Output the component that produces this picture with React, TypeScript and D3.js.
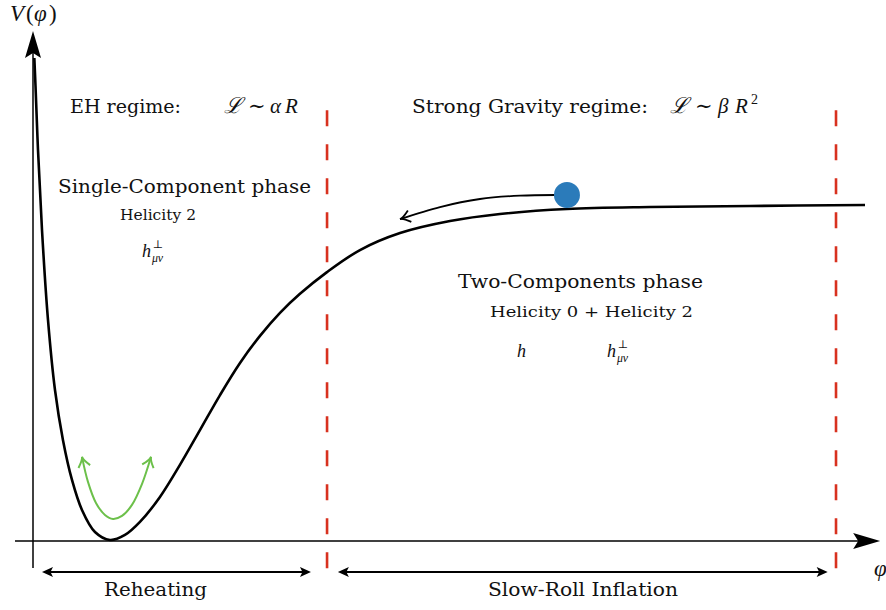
import React from "react";
import * as d3 from "d3";

// Potential curve V(φ) (φ in arbitrary units, V normalised to plateau = 1)
const phiValues = [0.016, 0.03, 0.06, 0.108, 0.18, 0.264, 0.36, 0.468, 0.588, 0.744, 0.924, 1.104, 1.284, 1.524, 1.764, 2.004, 2.245, 2.485, 2.725, 2.965, 3.205, 3.529, 3.925, 4.406, 5.006, 5.606, 6.41, 7.407, 8.607, 9.988];
const vValues = [1.443, 1.36, 1.168, 0.928, 0.659, 0.449, 0.299, 0.18, 0.09, 0.024, 0, 0.015, 0.054, 0.129, 0.225, 0.329, 0.434, 0.53, 0.611, 0.68, 0.737, 0.802, 0.868, 0.919, 0.955, 0.976, 0.991, 0.997, 1.0, 1.003];

// Green oscillation arrow
const greenPhi = [0.588, 0.66, 0.756, 0.864, 0.96, 1.068, 1.188, 1.309, 1.417];
const greenV = [0.249, 0.174, 0.111, 0.075, 0.063, 0.072, 0.105, 0.168, 0.249];

// Rolling arrow (from ball to the left)
const rollPhi = [6.267, 5.846, 5.366, 4.886, 4.406];
const rollV = [1.033, 1.031, 1.021, 0.997, 0.961];

// Ball
const ballPhi = 6.41;
const ballV = 1.033;

// Region boundaries
const boundaries = [3.53, 9.64];
const reheatingRange = [0.108, 3.337];
const slowRollRange = [3.66, 9.54];

const W = 886;
const H = 610;

const x = d3.scaleLinear().domain([0, 10]).range([33, 866]);
const y = d3.scaleLinear().domain([0, 1]).range([540, 206]);

const serif = "'DejaVu Serif', 'Liberation Serif', serif";
const mathFont = "'Liberation Serif', 'DejaVu Serif', serif";

function Hperp({ px, py, size }: { px: number; py: number; size: number }) {
  return (
    <g fontFamily={mathFont} fill="#111">
      <text x={px} y={py} fontSize={size} fontStyle="italic">h</text>
      <text x={px + size * 0.6} y={py - size * 0.5} fontSize={size * 0.62}>⊥</text>
      <text x={px + size * 0.55} y={py + size * 0.3} fontSize={size * 0.66} fontStyle="italic">μν</text>
    </g>
  );
}

function stealth(tipX: number, tipY: number, dx: number, dy: number, len: number, half: number, notch: number) {
  const bx = tipX - dx * len;
  const by = tipY - dy * len;
  const nx = -dy;
  const ny = dx;
  const p1 = [bx + nx * half, by + ny * half];
  const p2 = [bx - nx * half, by - ny * half];
  const pn = [tipX - dx * (len - notch), tipY - dy * (len - notch)];
  return `M${tipX},${tipY}L${p1[0]},${p1[1]}L${pn[0]},${pn[1]}L${p2[0]},${p2[1]}Z`;
}

function chevron(tipX: number, tipY: number, dx: number, dy: number, len: number, half: number) {
  const bx = tipX - dx * len;
  const by = tipY - dy * len;
  const nx = -dy;
  const ny = dx;
  return `M${bx + nx * half},${by + ny * half}Q${tipX - dx * len * 0.3},${tipY - dy * len * 0.3} ${tipX},${tipY}Q${tipX - dx * len * 0.3},${tipY - dy * len * 0.3} ${bx - nx * half},${by - ny * half}`;
}

export default function App() {
  const curvePts: [number, number][] = phiValues.map((p, i) => [p, vValues[i]]);
  const line = d3
    .line<[number, number]>()
    .x((d) => x(d[0]))
    .y((d) => y(d[1]))
    .curve(d3.curveCatmullRom.alpha(0.5));

  const greenPts: [number, number][] = greenPhi.map((p, i) => [p, greenV[i]]);
  const rollPts: [number, number][] = rollPhi.map((p, i) => [p, rollV[i]]);

  const dir = (a: [number, number], b: [number, number]) => {
    const ax = x(a[0]), ay = y(a[1]), bx = x(b[0]), by = y(b[1]);
    const l = Math.hypot(bx - ax, by - ay);
    return [(bx - ax) / l, (by - ay) / l];
  };
  const gL = dir(greenPts[1], greenPts[0]);
  const gR = dir(greenPts[greenPts.length - 2], greenPts[greenPts.length - 1]);
  const rEnd = dir(rollPts[rollPts.length - 2], rollPts[rollPts.length - 1]);

  const axisX0 = x(-0.216);
  const axisXTip = x(10.17);
  const axisY0 = y(-0.084);
  const axisYTip = y(1.524);
  const yAxisX = x(0);
  const xAxisY = y(0) + 1;

  const arrowY = y(-0.096);

  return (
    <svg width={W} height={H} style={{ position: "absolute", left: 0, top: 0, background: "#fff" }}>
      {/* axes */}
      <line x1={yAxisX} y1={axisY0} x2={yAxisX} y2={axisYTip + 20} stroke="#000" strokeWidth={1.5} />
      <path d={stealth(yAxisX, axisYTip, 0, -1, 27, 8, 5)} fill="#000" />
      <line x1={axisX0} y1={xAxisY} x2={axisXTip - 20} y2={xAxisY} stroke="#000" strokeWidth={1.5} />
      <path d={stealth(axisXTip, xAxisY, 1, 0, 27, 8, 5)} fill="#000" />

      {/* region boundaries */}
      {boundaries.map((b, i) => (
        <line
          key={i}
          x1={x(b)}
          x2={x(b)}
          y1={y(1.287)}
          y2={y(-0.09)}
          stroke="#d8311f"
          strokeWidth={2.6}
          strokeDasharray="16 18"
        />
      ))}

      {/* potential */}
      <path d={line(curvePts) || ""} fill="none" stroke="#000" strokeWidth={2.6} />

      {/* green arrow */}
      <path d={line(greenPts) || ""} fill="none" stroke="#6cc04a" strokeWidth={2} />
      <path d={chevron(x(greenPts[0][0]), y(greenPts[0][1]), gL[0], gL[1], 10, 6)} fill="none" stroke="#6cc04a" strokeWidth={2} />
      <path d={chevron(x(greenPts[8][0]), y(greenPts[8][1]), gR[0], gR[1], 10, 6)} fill="none" stroke="#6cc04a" strokeWidth={2} />

      {/* rolling arrow */}
      <path d={line(rollPts) || ""} fill="none" stroke="#000" strokeWidth={1.8} />
      <path d={chevron(x(rollPts[4][0]), y(rollPts[4][1]), rEnd[0], rEnd[1], 10, 6)} fill="none" stroke="#000" strokeWidth={1.8} />

      {/* ball */}
      <circle cx={x(ballPhi)} cy={y(ballV)} r={13} fill="#2b7bba" />

      {/* bottom range arrows */}
      {[reheatingRange, slowRollRange].map((r, i) => {
        const a = x(r[0]);
        const b = x(r[1]);
        return (
          <g key={i}>
            <line x1={a + 6} x2={b - 6} y1={arrowY} y2={arrowY} stroke="#000" strokeWidth={2} />
            <path d={stealth(a, arrowY, -1, 0, 11, 5, 2.5)} fill="#000" />
            <path d={stealth(b, arrowY, 1, 0, 11, 5, 2.5)} fill="#000" />
          </g>
        );
      })}

      {/* texts */}
      <g fontFamily={mathFont} fill="#111">
        <text x={10} y={21} fontSize={23} fontStyle="italic">V</text>
        <text x={26} y={21} fontSize={23}>(</text>
        <text x={34} y={21} fontSize={23} fontStyle="italic">φ</text>
        <text x={49} y={21} fontSize={23}>)</text>
        <text x={874} y={576} fontSize={23} fontStyle="italic">φ</text>

        <text x={224} y={113} fontSize={22} fontStyle="italic">ℒ</text>
        <text x={248} y={113} fontSize={21}>∼</text>
        <text x={270} y={113} fontSize={21} fontStyle="italic">α</text>
        <text x={285} y={113} fontSize={21} fontStyle="italic">R</text>

        <text x={670} y={113} fontSize={22} fontStyle="italic">ℒ</text>
        <text x={695} y={113} fontSize={21}>∼</text>
        <text x={718} y={113} fontSize={21} fontStyle="italic">β</text>
        <text x={735} y={113} fontSize={21} fontStyle="italic">R</text>
        <text x={751} y={104} fontSize={14}>2</text>
        <text x={517} y={357} fontSize={18} fontStyle="italic">h</text>
      </g>
      <g fontFamily={serif} fill="#111">
        <text x={70} y={113} fontSize={19} textLength={111} lengthAdjust="spacingAndGlyphs">EH regime:</text>
        <text x={412} y={113} fontSize={19} textLength={236} lengthAdjust="spacingAndGlyphs">Strong Gravity regime:</text>
        <text x={58} y={193} fontSize={19} textLength={253} lengthAdjust="spacingAndGlyphs">Single-Component phase</text>
        <text x={120} y={220} fontSize={14} textLength={76} lengthAdjust="spacingAndGlyphs">Helicity 2</text>
        <text x={458} y={288} fontSize={19} textLength={245} lengthAdjust="spacingAndGlyphs">Two-Components phase</text>
        <text x={490} y={317} fontSize={14} textLength={203} lengthAdjust="spacingAndGlyphs">Helicity 0 + Helicity 2</text>
        <text x={104} y={596} fontSize={19} textLength={103} lengthAdjust="spacingAndGlyphs">Reheating</text>
        <text x={488} y={596} fontSize={19} textLength={190} lengthAdjust="spacingAndGlyphs">Slow-Roll Inflation</text>
      </g>
      <Hperp px={142} py={257} size={18} />
      <Hperp px={607} py={357} size={18} />
    </svg>
  );
}
